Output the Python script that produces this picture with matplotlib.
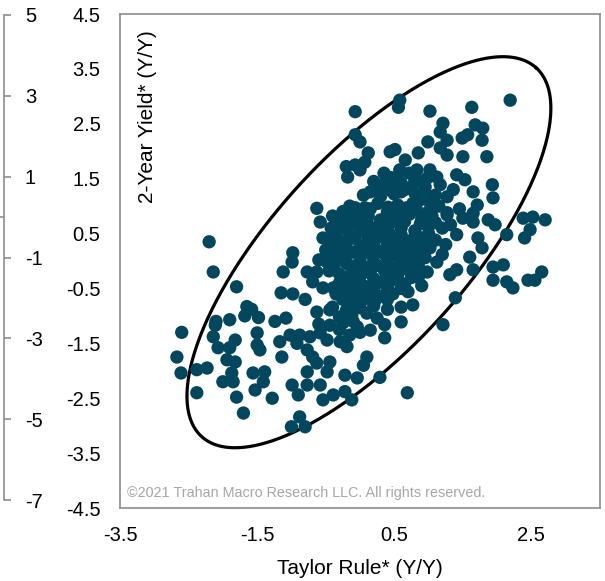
import numpy as np
import matplotlib
matplotlib.use("Agg")
import matplotlib.pyplot as plt
from matplotlib.ticker import FixedLocator

plt.rcParams['font.family'] = ['Liberation Sans', 'DejaVu Sans']
plt.rcParams['axes.unicode_minus'] = False

# ---------------- data (Taylor Rule* Y/Y, 2-Year Yield* Y/Y) ----------------
lower_tail = [
    (-2.6, -1.3), (-2.67, -1.75), (-2.61, -2.04), (-2.38, -1.98), (-2.23, -1.95),
    (-2.38, -2.4), (-2.11, -1.17), (-2.14, -1.38), (-2.07, -1.58), (-1.9, -1.58),
    (-1.82, -1.44), (-1.94, -1.8), (-1.82, -1.84), (-1.87, -2.04), (-2.0, -2.2),
    (-1.85, -2.2), (-1.8, -2.48), (-1.7, -2.77), (-1.56, -2.04), (-1.39, -2.02),
    (-1.41, -2.2), (-1.53, -2.35), (-1.28, -2.5), (-1.5, -1.31), (-1.5, -1.53),
    (-1.46, -1.62), (-1.17, -1.47), (-1.02, -1.35), (-0.88, -1.35), (-0.92, -1.5),
    (-0.73, -1.38), (-0.58, -1.31), (-0.48, -1.44), (-0.29, -1.47), (-0.19, -1.56),
    (-1.14, -1.75), (-0.77, -1.62), (-0.63, -1.86), (-0.77, -2.02), (-0.48, -2.02),
    (-0.22, -2.08), (-0.04, -2.13), (-0.99, -2.26), (-0.9, -2.44), (-0.77, -2.26),
    (-0.58, -2.26), (-0.54, -2.53), (-0.39, -2.44), (-0.22, -2.38), (-0.12, -2.53),
    (-0.88, -2.84), (-1.0, -3.02), (-0.8, -3.02), (-0.69, -1.75), (-0.44, -1.84),
    (0.29, -2.12), (0.69, -2.4), (0.1, -1.75), (0.05, -1.9),
    (-0.6, -1.15), (-0.3, -1.25), (-0.15, -1.35), (0.0, -1.3),
]

left_mid = [
    (-2.2, 0.35), (-2.14, -0.2), (-1.8, -0.47), (-1.65, -0.83), (-1.58, -0.88),
    (-2.1, -1.1), (-1.9, -1.07), (-1.68, -1.0), (-1.48, -1.03), (-1.24, -1.1),
    (-1.08, -1.04), (-1.15, -0.58), (-0.98, -0.6), (-1.12, -0.2), (-0.98, 0.15),
    (-0.99, -0.02), (-0.8, -0.7), (-0.63, 0.96), (-0.58, 0.71), (-0.54, 0.42),
    (-0.26, 0.35), (-0.22, 0.71), (-0.07, 0.93), (-0.77, -0.2), (-0.63, -0.2),
    (-0.48, -0.02), (-0.33, 0.05), (-0.69, -0.38), (-0.54, -0.49), (-0.39, -0.49),
    (-0.19, -0.35), (-0.63, -0.93), (-0.44, -0.89), (-0.25, -0.7), (-0.12, -0.76),
    (-0.04, -0.53), (-0.44, -1.17), (-0.1, -1.1),
]

right_side = [
    (1.27, 0.84), (1.65, 0.87), (1.65, 0.71), (1.87, 0.75), (1.97, 0.66),
    (2.14, 0.48), (2.4, 0.42), (2.48, 0.57), (2.38, 0.78), (2.7, 0.75),
    (2.52, 0.8), (1.41, 0.48), (1.72, 0.42), (1.78, 0.24), (1.6, 0.07),
    (1.65, -0.16), (1.94, -0.11), (2.09, -0.07), (1.94, -0.35), (2.14, -0.38),
    (2.23, -0.49), (2.45, -0.35), (2.55, -0.35), (2.65, -0.2), (1.39, -0.67),
    (1.41, -0.16), (1.31, -0.25), (0.98, -0.2), (0.6, -0.84), (0.77, -0.8),
    (0.6, -1.11), (1.21, -1.16), (0.36, -1.4), (0.1, -0.95), (0.25, -1.04),
    (0.36, -1.16), (-0.25, -1.13), (-0.04, -1.2), (0.15, -1.26),
]

upper = [
    (2.19, 2.93), (1.63, 2.8), (1.02, 2.73), (0.58, 2.93), (0.56, 2.8),
    (-0.07, 2.72), (1.21, 2.51), (1.17, 2.35), (1.68, 2.48), (1.79, 2.42),
    (1.78, 2.2), (1.49, 2.24), (1.57, 2.3), (0.99, 2.17), (1.27, 2.2),
    (-0.07, 2.3), (0.0, 2.17), (0.12, 1.97), (0.07, 1.8), (0.44, 1.99),
    (0.51, 2.03), (0.85, 1.97), (1.17, 2.06), (1.27, 1.93), (1.5, 1.9),
    (1.85, 1.9), (0.66, 1.84), (-0.07, 1.75), (0.0, 1.66), (-0.18, 1.53),
    (0.58, 1.66), (0.72, 1.6), (0.83, 1.66), (1.02, 1.66), (1.12, 1.53),
    (0.98, 1.51), (1.41, 1.57), (1.53, 1.48), (1.93, 1.39), (1.94, 1.15),
    (1.65, 1.26), (1.71, 1.02), (0.15, 1.26), (0.05, 1.2), (0.36, 1.42),
    (0.41, 1.3), (0.6, 1.42), (0.75, 1.35), (0.65, 1.3), (1.17, 1.39),
    (1.36, 1.3), (1.27, 1.17), (-0.07, 0.97), (0.07, 0.97), (0.26, 1.05),
    (0.41, 0.98), (0.77, 1.05), (0.87, 1.11), (1.02, 1.07), (1.27, 0.88),
    (-0.25, 0.78), (0.8, 1.24), (0.6, 1.26), (-0.2, 1.72),
    (0.35, 1.6), (0.45, 1.52), (0.25, 1.35), (0.5, 1.35), (0.8, 1.48), (0.95, 1.35),
]

core = [
    (0.2, 1.45), (0.55, 1.5), (0.9, 1.45),
    (0.3, 1.18), (0.5, 1.22), (0.95, 1.25), (1.1, 1.2),
    (-0.15, 1.0), (0.15, 0.95), (0.55, 1.02), (0.68, 0.97), (1.15, 1.0), (1.45, 0.95),
    (-0.4, 0.82), (-0.1, 0.78), (0.12, 0.82), (0.3, 0.75), (0.5, 0.8), (0.72, 0.85),
    (0.9, 0.78), (1.05, 0.82), (1.5, 0.78),
    (-0.42, 0.6), (-0.2, 0.58), (0.0, 0.62), (0.2, 0.57), (0.38, 0.63), (0.6, 0.6),
    (0.8, 0.55), (1.0, 0.63), (1.2, 0.6), (1.32, 0.66),
    (-0.45, 0.38), (-0.08, 0.42), (0.12, 0.37), (0.32, 0.44), (0.5, 0.4), (0.7, 0.36),
    (0.9, 0.42), (1.1, 0.38), (1.25, 0.3),
    (-0.5, 0.2), (-0.32, 0.22), (-0.12, 0.16), (0.08, 0.24), (0.27, 0.18), (0.46, 0.22),
    (0.66, 0.15), (0.85, 0.2), (1.02, 0.24), (1.2, 0.12),
    (-0.6, 0.02), (-0.2, -0.04), (0.0, 0.03), (0.2, -0.02), (0.4, 0.05), (0.6, -0.03),
    (0.78, 0.02), (0.95, 0.06), (1.12, -0.02),
    (-0.45, -0.18), (-0.3, -0.24), (-0.05, -0.18), (0.15, -0.22), (0.35, -0.16),
    (0.55, -0.24), (0.72, -0.18), (0.85, -0.3),
    (-0.3, -0.4), (-0.1, -0.38), (0.05, -0.45), (0.25, -0.4), (0.45, -0.36),
    (0.65, -0.42), (0.9, -0.45),
    (-0.35, -0.6), (-0.12, -0.62), (0.1, -0.58), (0.3, -0.64), (0.48, -0.6), (0.7, -0.56),
    (-0.4, -0.84), (-0.2, -0.9), (0.0, -0.85), (0.2, -0.82), (0.4, -0.88),
    (-0.3, -1.02), (-0.12, -0.98),
]

core_fill = [
    (-0.25, 0.9), (0.0, 0.88), (0.4, 0.9), (0.62, 0.92), (0.82, 0.95), (1.0, 0.9),
    (-0.3, 0.7), (-0.05, 0.68), (0.1, 0.72), (0.28, 0.66), (0.45, 0.7), (0.65, 0.72),
    (0.88, 0.68), (1.1, 0.7),
    (-0.35, 0.5), (-0.15, 0.48), (0.05, 0.52), (0.25, 0.5), (0.42, 0.52), (0.6, 0.48),
    (0.8, 0.45), (1.0, 0.5),
    (-0.38, 0.3), (-0.2, 0.32), (0.0, 0.28), (0.2, 0.3), (0.4, 0.32), (0.58, 0.3),
    (0.78, 0.28), (0.98, 0.32),
    (-0.4, 0.1), (-0.22, 0.08), (0.0, 0.12), (0.18, 0.1), (0.36, 0.12), (0.55, 0.08),
    (0.75, 0.1), (0.92, 0.12),
    (-0.38, -0.1), (-0.15, -0.08), (0.05, -0.1), (0.25, -0.08), (0.45, -0.12),
    (0.65, -0.1), (0.85, -0.08),
    (-0.2, -0.3), (0.0, -0.28), (0.2, -0.32), (0.38, -0.28), (0.55, -0.33), (0.75, -0.3),
    (-0.2, -0.5), (0.0, -0.52), (0.2, -0.5), (0.4, -0.48), (0.6, -0.5),
    (-0.15, -0.72), (0.05, -0.7), (0.22, -0.72), (0.4, -0.7),
]

x_ticks = [-3.5, -1.5, 0.5, 2.5]
y_ticks = [4.5, 3.5, 2.5, 1.5, 0.5, -0.5, -1.5, -2.5, -3.5, -4.5]
left_ticks = [5, 3, 1, -1, -3, -5, -7]

# ellipse annotation: centre and conjugate half-axis vectors (data units)
ell_center = (0.13, 0.16)
ell_u = (2.439, 3.360)
ell_v = (-1.045, 1.183)

# ---------------- figure ----------------
W, H = 605, 581
fig = plt.figure(figsize=(W / 100, H / 100), dpi=100)
ax = fig.add_axes([120 / W, 73 / H, 480 / W, 494 / H])

pts = np.array(lower_tail + left_mid + right_side + upper + core + core_fill)
dot_color = '#03475F'

t = np.linspace(0, 2 * np.pi, 400)
ex = ell_center[0] + ell_u[0] * np.cos(t) + ell_v[0] * np.sin(t)
ey = ell_center[1] + ell_u[1] * np.cos(t) + ell_v[1] * np.sin(t)
ax.plot(ex, ey, color='black', lw=2.3, zorder=2)

ax.scatter(pts[:, 0], pts[:, 1], s=92, color=dot_color, edgecolors='none', zorder=3)

ax.set_xlim(-3.5, 3.5)
ax.set_ylim(-4.5, 4.5)
ax.set_xticks(x_ticks)
ax.set_xticklabels([f"{v:g}" for v in x_ticks])
ax.set_yticks(y_ticks)
ax.set_yticklabels([f"{v:g}" for v in y_ticks])
ax.tick_params(axis='both', length=0, labelsize=14.5, colors='black')
ax.tick_params(axis='y', pad=14)
ax.tick_params(axis='x', pad=13)
for s in ax.spines.values():
    s.set_color('#8c8c8c')
    s.set_linewidth(1.2)

ax.set_xlabel('Taylor Rule* (Y/Y)', fontsize=15, labelpad=10)
ax.text(0.058, 0.968, '2-Year Yield* (Y/Y)', transform=ax.transAxes, rotation=90,
        ha='center', va='top', fontsize=15)
ax.text(0.015, 0.03, '©2021 Trahan Macro Research LLC. All rights reserved.',
        transform=ax.transAxes, ha='left', va='center', fontsize=10.4, color='#a6a6a6')

# secondary (left) scale
ax2 = fig.add_axes([4 / W, 81 / H, 0.0001, 485 / H])
ax2.set_ylim(-7, 5)
ax2.set_xticks([])
for side in ['left', 'top', 'bottom']:
    ax2.spines[side].set_visible(False)
ax2.spines['right'].set_color('#8c8c8c')
ax2.spines['right'].set_linewidth(1.2)
ax2.yaxis.tick_right()
ax2.set_yticks(left_ticks)
ax2.set_yticklabels([f"{v:g}" for v in left_ticks])
ax2.yaxis.set_minor_locator(FixedLocator([0]))
ax2.tick_params(axis='y', which='major', direction='out', length=5, width=1.2,
                color='#8c8c8c', pad=10, labelsize=14.5)
ax2.tick_params(axis='y', which='minor', direction='in', length=3, width=1.2,
                color='#8c8c8c')
ax2.patch.set_visible(False)

fig.savefig('out.png', dpi=100)
